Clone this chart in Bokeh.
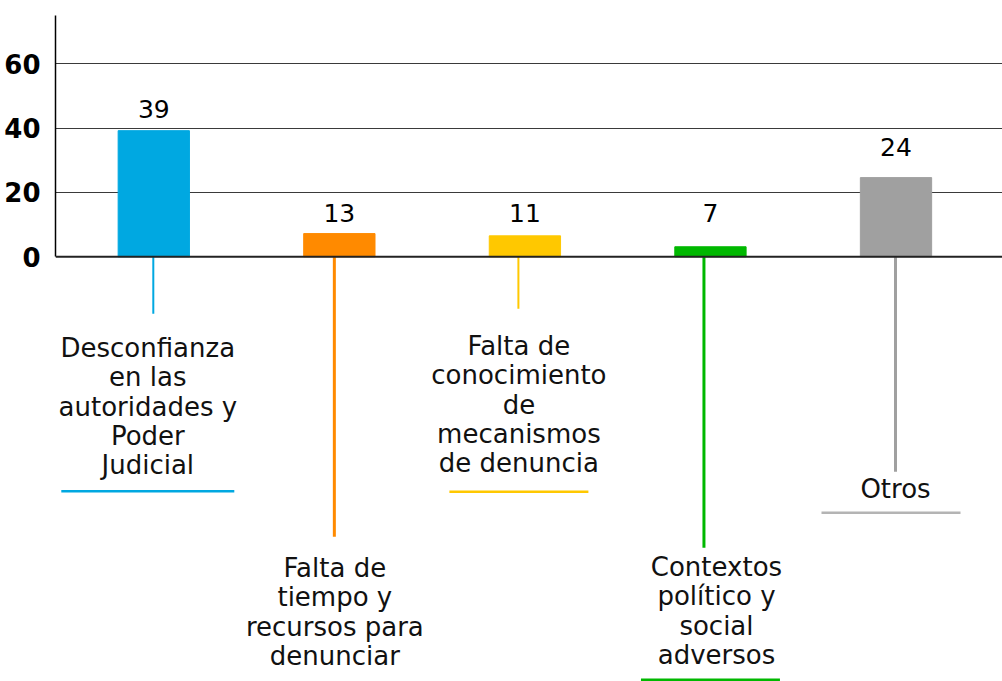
from bokeh.plotting import figure
from bokeh.models import ColumnDataSource, FixedTicker, Span
from bokeh.core.properties import value
from bokeh.embed import file_html
from bokeh.resources import INLINE

# ---------------- data ----------------
categories = [
    "Desconfianza en las autoridades y Poder Judicial",
    "Falta de tiempo y recursos para denunciar",
    "Falta de conocimiento de mecanismos de denuncia",
    "Contextos político y social adversos",
    "Otros",
]
label_lines = [
    ["Desconfianza", "en las", "autoridades y", "Poder", "Judicial"],
    ["Falta de", "tiempo y", "recursos para", "denunciar"],
    ["Falta de", "conocimiento", "de", "mecanismos", "de denuncia"],
    ["Contextos", "político y", "social", "adversos"],
    ["Otros"],
]
bar_values = [39.2, 7.2, 6.5, 3.1, 24.6]
value_labels = ["39", "13", "11", "7", "24"]
y_ticks = [0, 20, 40, 60]

# ---------------- styling ----------------
colors = ["#00A8E1", "#FF8A00", "#FFC800", "#00B800", "#A0A0A0"]
under_colors = ["#00A8E1", "#FF8A00", "#FFC800", "#00B800", "#B4B4B4"]
FONT = "DejaVu Sans"
SX = 185.55          # px per category
SY = 193.0 / 60.0    # px per unit
W, H = 1002, 681
FRAME_LEFT = 55
FRAME_TOP = 15
XMIN = -(153.3 - FRAME_LEFT) / SX
XMAX = XMIN + (W - FRAME_LEFT) / SX
YMAX = 75.0
YMIN = -(H - FRAME_TOP - YMAX * SY) / SY
TXT_FIX = 9.5        # svg baseline correction (px)

# per-category layout (pixels, relative to bar centre / zero line)
leader_dx = [-0.5, -5.0, -6.5, -6.5, -0.5]
leader_len = [57, 280, 52, 291, 215]
leader_w = [2, 3, 2, 3, 3]
text_dx = [-6, -4.5, -6, 6, -0.5]
text_first = [101, 321, 99, 320, 242]
line_gap = 29.2
under_y = [234.5, None, 235, 423, 256]
under_dx = [-6, 0, -6, 0, -5]
under_w = [173, 0, 139, 139, 139]
value_gap = [12, 11, 13, 24, 21]

# ---------------- figure ----------------
p = figure(width=W, height=H, x_range=(XMIN, XMAX), y_range=(YMIN, YMAX),
           output_backend="svg", toolbar_location=None, x_axis_location=None,
           min_border_left=FRAME_LEFT, min_border_right=0,
           min_border_top=FRAME_TOP, min_border_bottom=0)
p.outline_line_color = None
p.background_fill_color = "white"
p.border_fill_color = "white"

p.xgrid.visible = False
p.ygrid.ticker = FixedTicker(ticks=y_ticks)
p.ygrid.grid_line_color = "#3a3a3a"
p.ygrid.grid_line_width = 1.2

ax = p.yaxis[0]
ax.ticker = FixedTicker(ticks=y_ticks)
ax.bounds = (0, YMAX)
ax.axis_line_color = "black"
ax.axis_line_width = 1.5
ax.major_tick_line_color = None
ax.minor_tick_line_color = None
ax.major_label_standoff = 9
ax.major_label_text_font = FONT
ax.major_label_text_font_style = "bold"
ax.major_label_text_font_size = "26px"
ax.major_label_text_color = "black"

p.add_layout(Span(location=0, dimension="width", line_color="#222222", line_width=2))

xs = list(range(len(categories)))
src = ColumnDataSource(dict(x=xs, top=bar_values, color=colors, lab=value_labels,
                            gap=[-g - TXT_FIX for g in value_gap]))
p.vbar(x="x", top="top", bottom=0, width=71.3 / SX, color="color", source=src)

p.text(x="x", y="top", text="lab", y_offset="gap", source=src,
       text_align="center", text_baseline="alphabetic",
       text_font=value(FONT), text_font_size="25px", text_color="black")

# leader lines
lx = [i + d / SX for i, d in zip(xs, leader_dx)]
p.segment(x0=lx, y0=[0] * 5, x1=lx, y1=[-l / SY for l in leader_len],
          line_color=colors, line_width=leader_w)

# category labels
tx, ty, tt, toff = [], [], [], []
for i, lines in enumerate(label_lines):
    for j, s in enumerate(lines):
        tx.append(xs[i] + text_dx[i] / SX)
        ty.append(0)
        tt.append(s)
        toff.append(text_first[i] + j * line_gap - TXT_FIX)
p.text(x=tx, y=ty, text=tt, y_offset=toff, text_align="center",
       text_baseline="alphabetic", text_font=value(FONT),
       text_font_size="26px", text_color="#111111")

# underlines
ux0, ux1, uy, uc = [], [], [], []
for i in xs:
    if under_y[i] is None:
        continue
    c = xs[i] + under_dx[i] / SX
    ux0.append(c - under_w[i] / 2 / SX)
    ux1.append(c + under_w[i] / 2 / SX)
    uy.append(-under_y[i] / SY)
    uc.append(under_colors[i])
p.segment(x0=ux0, y0=uy, x1=ux1, y1=uy, line_color=uc, line_width=2.5)

open("out.html", "w").write(file_html(p, INLINE))
